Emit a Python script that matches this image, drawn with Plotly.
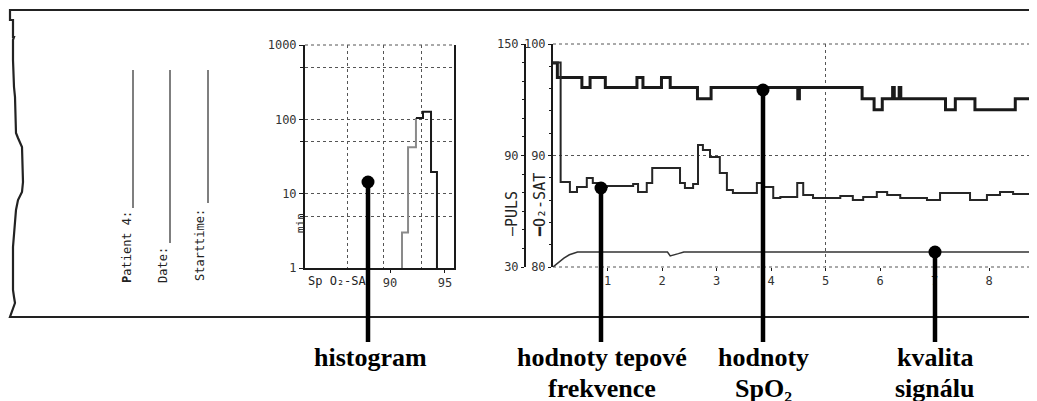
import plotly.graph_objects as go

W, H = 1037, 401
OFF = 8  # page body margin of the browser

# ---------------- data ----------------
# histogram of SpO2 (minutes, log scale) - step outline
hist_gray_spo2 = [91.09, 91.09, 91.64, 92.36]
hist_gray_min = [1, 3, 42, 104]
hist_black_spo2 = [92.36, 93.0, 93.73, 94.27]
hist_black_min = [104, 126, 19.6, 1]
hist_x_ticks = [90, 95]
hist_x_ticklabels = ["90", "95"]
hist_x_grid = [86.1, 89.4, 92.9]
hist_y_ticks = [1, 10, 100, 1000]
hist_y_ticklabels = ["1", "10", "100", "1000"]
hist_y_grid = [5, 50, 500]

# trend: SpO2 (%)
spo2_time = [0, 0.08, 0.53, 0.68, 0.96, 1.54, 1.65, 1.99, 2.15, 2.65, 2.90, 4.49, 4.52,
             5.67, 5.89, 6.04, 6.23, 6.26, 6.35, 6.38, 7.20, 7.38, 7.74, 8.48, 8.75]
spo2_values = [98.3, 97.0, 96.1, 97.0, 96.1, 97.0, 96.1, 97.0, 96.1, 95.1, 96.1, 95.1, 96.1,
               95.1, 94.1, 95.1, 96.1, 95.1, 96.1, 95.1, 94.1, 95.1, 94.1, 95.1, 95.1]

# trend: pulse (bpm)
pulse_time = [0, 0.14, 0.31, 0.44, 0.62, 0.73, 0.86, 0.99, 1.47, 1.56, 1.72, 1.82, 2.28, 2.33,
              2.42, 2.57, 2.66, 2.75, 2.88, 3.06, 3.19, 3.30, 3.56, 3.74, 3.85, 4.04, 4.17,
              4.26, 4.48, 4.59, 4.77, 5.03, 5.27, 5.50, 5.69, 5.94, 6.13, 6.37, 6.86, 7.10,
              7.41, 7.65, 7.96, 8.20, 8.44, 8.75]
pulse_values = [140, 75.7, 70.3, 73.0, 77.9, 75.2, 73.0, 73.6, 74.6, 70.3, 75.2, 83.3, 83.3,
                75.2, 72.5, 74.6, 95.6, 92.9, 89.2, 80.6, 71.4, 69.8, 69.8, 75.2, 73.0, 67.1,
                67.7, 67.7, 75.2, 68.7, 67.1, 67.1, 68.2, 66.0, 67.7, 70.3, 68.7, 67.1, 66.0,
                69.8, 69.8, 66.0, 68.7, 70.3, 69.3, 68.2]

# trend: signal quality (drawn on SAT scale)
quality_time = [0, 0.1, 0.2, 0.3, 0.45, 2.1, 2.15, 2.3, 2.4, 8.75]
quality_values = [80.0, 80.4, 80.8, 81.1, 81.35, 81.35, 81.0, 81.2, 81.35, 81.35]

time_ticks = [1, 2, 3, 4, 5, 6, 7, 8]
time_grid = [5]
sat_ticks = [80, 90, 100]
puls_ticks = [30, 90, 150]

# ---------------- helpers ----------------
def px(x):
    return (x - OFF) / W


def py(y):
    return 1 - (y - OFF) / H


INK = "#1a1a1a"
GRID = "#555555"
MONO = "DejaVu Sans Mono"
SERIF = "Liberation Serif"

fig = go.Figure()

# histogram
fig.add_trace(go.Scatter(x=hist_gray_spo2, y=hist_gray_min, mode="lines",
                         line=dict(color="#8a8a8a", width=2, shape="hv"),
                         xaxis="x", yaxis="y", showlegend=False, hoverinfo="skip"))
fig.add_trace(go.Scatter(x=hist_black_spo2, y=hist_black_min, mode="lines",
                         line=dict(color=INK, width=2, shape="hv"),
                         xaxis="x", yaxis="y", showlegend=False, hoverinfo="skip"))

# trend lines
fig.add_trace(go.Scatter(x=quality_time, y=quality_values, mode="lines",
                         line=dict(color="#333333", width=1.5),
                         xaxis="x2", yaxis="y2", showlegend=False, hoverinfo="skip"))
fig.add_trace(go.Scatter(x=pulse_time, y=pulse_values, mode="lines",
                         line=dict(color="#262626", width=2, shape="hv"),
                         xaxis="x2", yaxis="y3", showlegend=False, hoverinfo="skip"))
fig.add_trace(go.Scatter(x=spo2_time, y=spo2_values, mode="lines",
                         line=dict(color=INK, width=3, shape="hv"),
                         xaxis="x2", yaxis="y2", showlegend=False, hoverinfo="skip"))

tickfont = dict(family=MONO, size=12, color="#333333")

fig.update_layout(
    width=W, height=H, autosize=False,
    margin=dict(l=0, r=0, t=0, b=0, pad=0, autoexpand=False),
    paper_bgcolor="white", plot_bgcolor="white",
    showlegend=False,
    xaxis=dict(domain=[px(305), px(454)], range=[82.27, 95.82], anchor="y",
               tickmode="array", tickvals=hist_x_ticks, ticktext=hist_x_ticklabels,
               tickfont=tickfont, showgrid=False, zeroline=False, automargin=False,
               showline=True, linecolor=INK, linewidth=2,
               ticks="outside", ticklen=3, tickcolor=INK,
               minor=dict(tickmode="array", tickvals=hist_x_grid, showgrid=True,
                          griddash="dot", gridcolor=GRID, gridwidth=1, ticks="")),
    yaxis=dict(domain=[py(268), py(45)], type="log", range=[0, 3], anchor="x",
               tickmode="array", tickvals=hist_y_ticks, ticktext=hist_y_ticklabels,
               tickfont=tickfont, showgrid=True, griddash="dot", gridcolor=GRID,
               showline=True, mirror=True, linecolor=INK, linewidth=2, automargin=False,
               ticks="outside", ticklen=4, tickcolor=INK, zeroline=False,
               minor=dict(tickmode="array", tickvals=hist_y_grid, showgrid=True,
                          griddash="dot", gridcolor=GRID, gridwidth=1,
                          ticks="outside", ticklen=3, tickcolor=INK)),
    xaxis2=dict(domain=[px(553), px(1030)], range=[0, 8.75], anchor="y2",
                tickmode="array", tickvals=time_ticks, tickfont=tickfont, automargin=False,
                showgrid=False, zeroline=False, showline=False,
                ticks="outside", ticklen=3, tickcolor=INK,
                minor=dict(tickmode="array", tickvals=time_grid, showgrid=True,
                           griddash="dot", gridcolor=GRID, gridwidth=1, ticks="")),
    yaxis2=dict(domain=[py(267), py(44)], range=[80, 100], anchor="x2",
                tickmode="array", tickvals=sat_ticks, tickfont=tickfont, automargin=False,
                showgrid=True, griddash="dot", gridcolor=GRID, zeroline=False,
                showline=True, linecolor=INK, linewidth=2,
                ticks="outside", ticklen=3, tickcolor=INK,
                minor=dict(dtick=2, ticks="outside", ticklen=2, tickcolor=INK, showgrid=False)),
    yaxis3=dict(range=[30, 150], overlaying="y2", anchor="free", position=px(525),
                side="left", tickmode="array", tickvals=puls_ticks, tickfont=tickfont,
                showgrid=False, zeroline=False, automargin=False,
                showline=True, linecolor=INK, linewidth=2,
                ticks="outside", ticklen=3, tickcolor=INK,
                minor=dict(dtick=10, ticks="outside", ticklen=2, tickcolor=INK, showgrid=False)),
)

shapes = []
# paper frame with torn left edge
frame_pts = [(1045, 10), (10, 10), (10, 20), (13, 20), (13, 37), (14, 37), (13, 40), (13, 60),
             (14, 87), (15, 97), (16, 133), (18, 138), (22, 147), (23, 182), (22, 192),
             (18, 200), (16, 210), (13, 247), (13, 290), (14, 297), (15, 303), (10, 317),
             (1045, 317)]
path = "M " + " L ".join(f"{px(x):.5f},{py(y):.5f}" for x, y in frame_pts)
shapes.append(dict(type="path", xref="paper", yref="paper", path=path,
                   line=dict(color="#222222", width=2.2)))

# dotted plot-area borders (top of histogram, top and bottom of trend)
for xr, yr, yv in [("x domain", "y domain", 1), ("x2 domain", "y2 domain", 1),
                   ("x2 domain", "y2 domain", 0)]:
    shapes.append(dict(type="line", xref=xr, yref=yr, x0=0, x1=1, y0=yv, y1=yv,
                       line=dict(color=GRID, width=1, dash="dot"), layer="below"))

# form lines (Patient, Date, Starttime)
for x, y0, y1 in [(133, 70, 208), (170, 70, 243), (208, 70, 203)]:
    shapes.append(dict(type="line", xref="paper", yref="paper",
                       x0=px(x), x1=px(x), y0=py(y0), y1=py(y1),
                       line=dict(color="#555555", width=1.5)))

# pointer lines with dots
pointers = [(368, 182), (601, 188), (763, 90), (935, 252)]
for x, y in pointers:
    shapes.append(dict(type="line", xref="paper", yref="paper",
                       x0=px(x), x1=px(x), y0=py(y), y1=py(342),
                       line=dict(color="black", width=4.5), layer="above"))
    r = 6.5
    shapes.append(dict(type="circle", xref="paper", yref="paper",
                       x0=px(x - r), x1=px(x + r), y0=py(y + r), y1=py(y - r),
                       fillcolor="black", line=dict(color="black", width=0), layer="above"))

fig.update_layout(shapes=shapes)

ann = []


def add_text(x, y, text, size, family, angle=0, color="#222222"):
    ann.append(dict(x=px(x), y=py(y), xref="paper", yref="paper", text=text,
                    showarrow=False, xanchor="center", yanchor="middle",
                    textangle=angle, font=dict(family=family, size=size, color=color)))


# rotated form labels
add_text(127, 247, "<b>P</b>atient 4:", 12, MONO, -90)
add_text(163, 265, "Date:", 12, MONO, -90)
add_text(200, 245, "Starttime:", 12, MONO, -90)

# histogram axis labels
add_text(300, 223, "min", 11, MONO, -90)
add_text(337, 281, "Sp O₂-SA", 12, MONO)

# trend axis titles
add_text(512, 214, "—PULS", 15, MONO, -90)
add_text(540, 205, "━O₂-SAT", 15, MONO, -90)

# pointer captions
lab = 26
add_text(370, 357, "<b>histogram</b>", lab, SERIF, color="black")
add_text(602, 357, "<b>hodnoty tepové</b>", lab, SERIF, color="black")
add_text(602, 388, "<b>frekvence</b>", lab, SERIF, color="black")
add_text(763, 357, "<b>hodnoty</b>", lab, SERIF, color="black")
add_text(763, 388, "<b>SpO₂</b>", lab, SERIF, color="black")
add_text(935, 357, "<b>kvalita</b>", lab, SERIF, color="black")
add_text(935, 388, "<b>signálu</b>", lab, SERIF, color="black")

fig.update_layout(annotations=ann)

fig.write_html("out.html")
